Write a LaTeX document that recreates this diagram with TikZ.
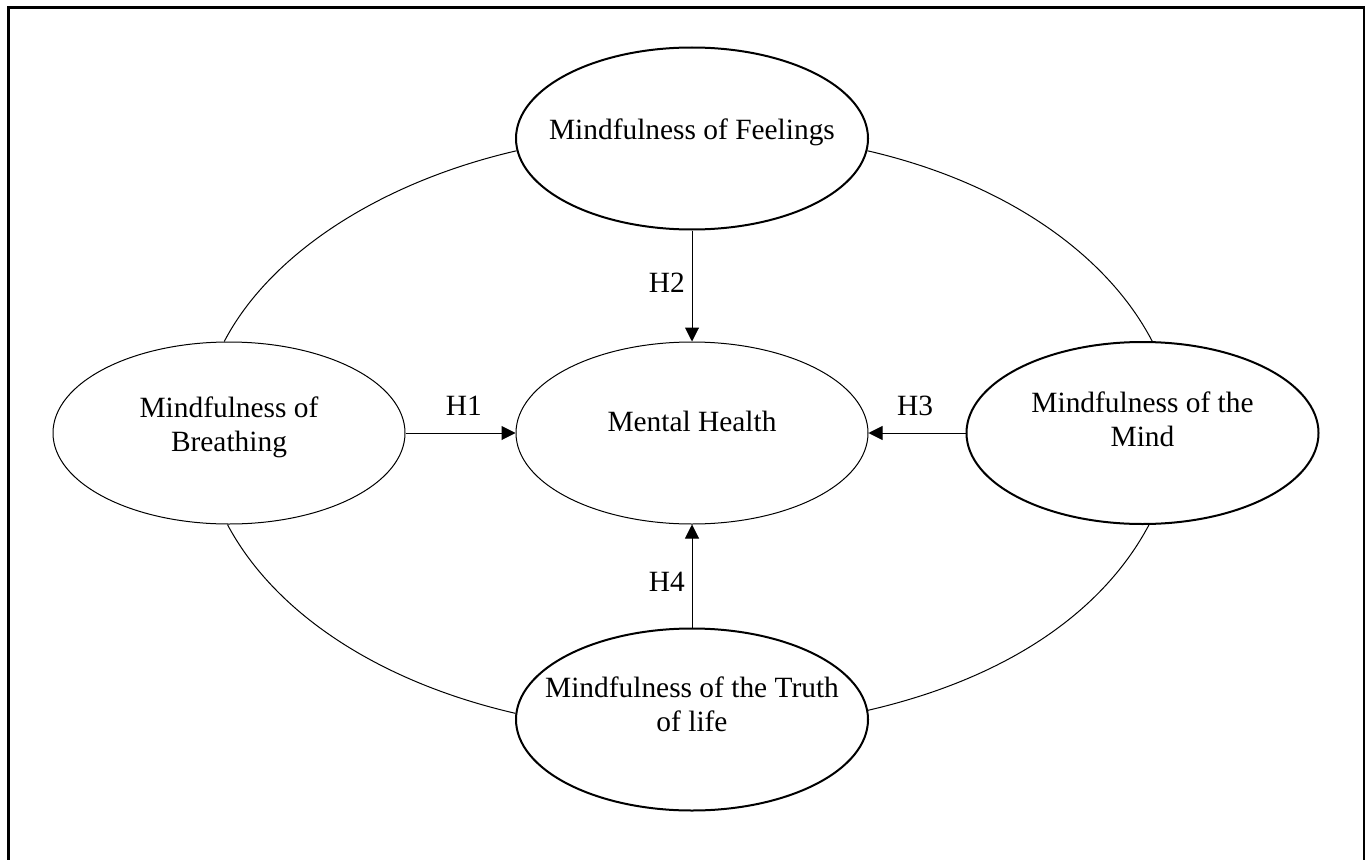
\documentclass[tikz,border=0pt]{standalone}
\usepackage{fontspec}
\setmainfont{Liberation Serif}
\usetikzlibrary{shapes.geometric,arrows.meta,positioning}
\tikzset{construct/.style={ellipse,draw=black,line width=0.5pt,fill=white,minimum width=176pt,minimum height=91pt,inner sep=0pt}}
\tikzset{heavy/.style={line width=1pt}}
\tikzset{ctext/.style={align=center,font=\fontsize{14.7}{17}\selectfont}}
\tikzset{hlabel/.style={font=\fontsize{14.7}{17}\selectfont}}
\tikzset{hypo/.style={-{Triangle[length=7pt,width=7pt]},line width=0.5pt}}
\tikzset{ring/.style={line width=0.5pt}}
\begin{document}
\begin{tikzpicture}[x=0.5pt,y=0.5pt]
\useasboundingbox (0,0) rectangle (1370,859);
\draw[line width=1.2pt] (8.5,-20) |- (1364,851.5) -- (1364,-20);
\begin{scope}
	\node (mh) [construct, label={[ctext,yshift=6pt]center:Mental Health}] at (692,426) {};
	\node (feel) [construct, heavy, above=55.5pt of mh, label={[ctext,yshift=3pt]center:Mindfulness of Feelings}] {};
	\node (breath) [construct, left=55pt of mh, label={[ctext,yshift=3pt]center:Mindfulness of\\Breathing}] {};
	\node (mind) [construct, heavy, right=48.5pt of mh, label={[ctext,yshift=7pt]center:Mindfulness of the\\Mind}] {};
	\node (truth) [construct, heavy, below=51.5pt of mh, label={[ctext,yshift=7.5pt]center:Mindfulness of the Truth\\of life}] {};
\end{scope}
% outer ring
\draw[ring] (feel.184) .. controls +(193:143) and +(62.5:97) .. (breath.93);
\draw[ring] (feel.356) .. controls +(347:143) and +(117.5:97) .. (mind.84);
\draw[ring] (breath.269) .. controls +(298:97) and +(167:145) .. (truth.178);
\draw[ring] (mind.274) .. controls +(242:97) and +(13:145) .. (truth.3);
% hypotheses
\draw[hypo] (breath) -- node[hlabel,above=5pt,pos=0.53] {H1} (mh);
\draw[hypo] (feel) -- node[hlabel,left,pos=0.47] {H2} (mh);
\draw[hypo] (mind) -- node[hlabel,above=5pt,pos=0.52] {H3} (mh);
\draw[hypo] (truth) -- node[hlabel,left,pos=0.44] {H4} (mh);
\end{tikzpicture}
\end{document}
